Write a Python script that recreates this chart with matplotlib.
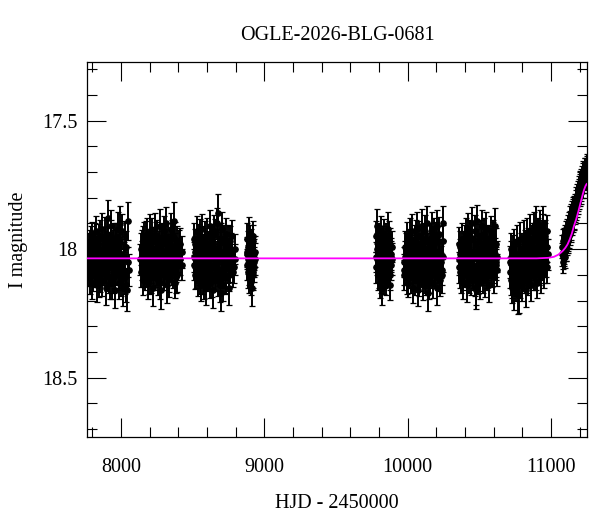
import matplotlib
matplotlib.use('Agg')
import matplotlib.pyplot as plt
from matplotlib.ticker import MultipleLocator, FuncFormatter

# OGLE I-band photometry per observing season: HJD - 2450000, I mag, error in mmag
# (two interleaved sets per season)
s1_t = [7774, 7779, 7783, 7788, 7792, 7797, 7801, 7806, 7812, 7817,
        7823, 7828, 7833, 7839, 7844, 7850, 7855, 7861, 7866, 7872,
        7878, 7883, 7889, 7894, 7900, 7906, 7911, 7917, 7922, 7928,
        7934, 7939, 7945, 7950, 7956, 7962, 7967, 7973, 7979, 7984,
        7990, 7995, 8001, 8007, 8013, 8019, 8026, 8034, 8045, 8052]
s1_mag = [18.02, 18.08, 17.98, 18.11, 18.05, 17.95, 18.13, 18.03, 17.99, 18.09,
          18.06, 17.93, 18.14, 18.01, 18.07, 17.96, 18.10, 18.04, 17.92, 18.12,
          18.00, 18.08, 17.97, 18.15, 18.03, 17.94, 17.88, 18.11, 17.99, 18.02,
          17.91, 18.13, 18.05, 17.96, 18.09, 18.16, 17.98, 18.04, 17.92, 18.10,
          18.01, 17.90, 18.12, 18.07, 18.15, 18.03, 17.95, 18.14, 18.16, 17.89]
s1_err = [58, 62, 55, 66, 60, 57, 64, 59, 61, 56,
          63, 58, 67, 60, 62, 57, 65, 59, 61, 63,
          58, 60, 56, 66, 59, 62, 70, 61, 57, 60,
          64, 63, 58, 60, 62, 68, 57, 59, 63, 61,
          58, 66, 62, 60, 72, 59, 61, 65, 80, 75]
s1b_t = [7776, 7781, 7786, 7790, 7795, 7799, 7804, 7809, 7814, 7820,
         7825, 7831, 7836, 7842, 7847, 7853, 7858, 7864, 7869, 7875,
         7880, 7886, 7891, 7897, 7903, 7908, 7914, 7920, 7925, 7931,
         7937, 7942, 7948, 7953, 7959, 7965, 7970, 7976, 7981, 7987,
         7993, 7998, 8004, 8010, 8016, 8022, 8030, 8039, 8049, 8056]
s1b_mag = [18.06, 18.00, 18.04, 17.97, 18.08, 18.03, 17.99, 18.10, 18.05, 17.96,
           18.02, 18.09, 18.04, 17.98, 18.12, 18.01, 17.95, 18.06, 18.08, 18.00,
           18.04, 17.94, 18.07, 18.02, 18.10, 17.97, 18.05, 18.01, 18.13, 17.95,
           18.07, 18.03, 17.99, 18.11, 18.02, 17.96, 18.08, 18.05, 18.00, 18.13,
           17.97, 18.06, 18.02, 17.93, 18.09, 18.04, 18.11, 17.99, 18.05, 18.08]
s1b_err = [60, 62, 58, 61, 63, 59, 60, 64, 57, 62,
           61, 59, 63, 60, 65, 58, 62, 60, 61, 59,
           63, 66, 60, 58, 62, 61, 59, 60, 64, 62,
           58, 61, 63, 60, 59, 62, 61, 60, 58, 65,
           63, 59, 60, 67, 62, 58, 64, 61, 60, 62]

s2_t = [8137, 8142, 8148, 8153, 8159, 8164, 8170, 8176, 8181, 8187,
        8192, 8198, 8204, 8209, 8215, 8220, 8226, 8232, 8237, 8243,
        8248, 8254, 8260, 8265, 8271, 8276, 8282, 8288, 8293, 8299,
        8304, 8310, 8316, 8321, 8327, 8332, 8338, 8344, 8349, 8355,
        8360, 8366, 8372, 8377, 8383, 8389, 8395, 8402, 8411, 8423]
s2_mag = [18.04, 18.09, 17.99, 18.12, 18.02, 17.96, 18.10, 18.05, 17.94, 18.13,
          18.00, 18.07, 17.93, 18.11, 18.03, 17.97, 18.15, 18.06, 17.92, 18.09,
          18.01, 17.95, 18.12, 18.04, 17.91, 18.08, 18.16, 17.98, 18.03, 17.93,
          18.10, 18.06, 17.90, 18.14, 18.00, 17.96, 18.11, 18.05, 17.92, 18.08,
          18.02, 17.95, 17.89, 18.13, 18.07, 17.97, 18.10, 18.03, 17.98, 18.06]
s2_err = [60, 57, 63, 59, 61, 65, 58, 62, 60, 64,
          57, 61, 66, 59, 63, 58, 70, 60, 62, 57,
          61, 64, 59, 62, 66, 58, 72, 60, 63, 59,
          61, 57, 65, 68, 60, 62, 58, 64, 61, 59,
          63, 60, 74, 62, 58, 61, 66, 59, 63, 60]
s2b_t = [8139, 8145, 8150, 8156, 8161, 8167, 8173, 8178, 8184, 8190,
         8195, 8201, 8206, 8212, 8218, 8223, 8229, 8234, 8240, 8246,
         8251, 8257, 8262, 8268, 8274, 8279, 8285, 8290, 8296, 8302,
         8307, 8313, 8318, 8324, 8330, 8335, 8341, 8346, 8352, 8358,
         8363, 8369, 8375, 8380, 8386, 8392, 8398, 8406, 8416, 8426]
s2b_mag = [18.00, 18.06, 18.03, 17.97, 18.09, 18.01, 18.05, 17.95, 18.08, 18.02,
           18.11, 17.98, 18.04, 18.07, 17.94, 18.03, 18.10, 18.00, 18.06, 17.96,
           18.08, 18.02, 18.05, 17.99, 18.13, 18.04, 17.96, 18.07, 18.01, 18.10,
           17.97, 18.03, 18.08, 18.00, 18.05, 18.12, 17.98, 18.02, 18.06, 17.95,
           18.09, 18.04, 18.00, 17.96, 18.11, 18.03, 18.06, 17.99, 18.04, 18.01]
s2b_err = [61, 59, 62, 60, 58, 63, 61, 60, 62, 59,
           64, 60, 58, 61, 63, 62, 60, 59, 61, 64,
           60, 62, 58, 61, 66, 59, 62, 60, 63, 61,
           59, 62, 60, 58, 61, 65, 60, 62, 59, 63,
           61, 60, 62, 64, 60, 59, 61, 63, 60, 62]

s3_t = [8507, 8512, 8518, 8523, 8529, 8535, 8540, 8546, 8551, 8557,
        8563, 8568, 8574, 8579, 8585, 8591, 8596, 8602, 8607, 8613,
        8619, 8624, 8630, 8635, 8641, 8647, 8652, 8658, 8663, 8669,
        8675, 8680, 8686, 8691, 8697, 8703, 8708, 8714, 8719, 8725,
        8731, 8736, 8742, 8747, 8753, 8759, 8765, 8772, 8781, 8794]
s3_mag = [18.03, 17.96, 18.10, 18.05, 17.93, 18.12, 18.00, 18.08, 17.95, 18.14,
          18.04, 17.92, 18.11, 18.06, 17.98, 18.15, 18.01, 17.94, 18.09, 18.03,
          17.91, 18.13, 18.07, 17.97, 18.16, 18.02, 17.93, 18.10, 18.05, 17.90,
          18.12, 17.86, 18.04, 17.96, 18.17, 18.08, 17.92, 18.14, 18.01, 18.06,
          17.94, 18.11, 18.03, 17.97, 18.15, 18.07, 18.00, 17.95, 18.09, 18.04]
s3_err = [59, 62, 57, 64, 60, 63, 58, 61, 66, 60,
          62, 58, 65, 59, 61, 68, 57, 63, 60, 62,
          64, 59, 61, 66, 70, 58, 62, 60, 64, 59,
          61, 75, 60, 63, 72, 58, 65, 62, 59, 61,
          63, 60, 57, 64, 66, 59, 61, 62, 58, 60]
s3b_t = [8509, 8515, 8520, 8526, 8532, 8537, 8543, 8548, 8554, 8560,
         8565, 8571, 8576, 8582, 8588, 8593, 8599, 8604, 8610, 8616,
         8621, 8627, 8632, 8638, 8644, 8649, 8655, 8660, 8666, 8672,
         8677, 8683, 8688, 8694, 8700, 8705, 8711, 8716, 8722, 8728,
         8733, 8739, 8744, 8750, 8756, 8762, 8768, 8776, 8787, 8797]
s3b_mag = [18.06, 18.01, 17.98, 18.09, 18.03, 18.07, 17.96, 18.04, 18.11, 18.00,
           17.97, 18.08, 18.02, 18.13, 17.95, 18.05, 18.10, 17.99, 18.06, 18.02,
           18.09, 17.96, 18.04, 18.12, 18.00, 18.07, 17.94, 18.03, 18.10, 18.05,
           17.98, 18.08, 18.01, 18.14, 17.96, 18.04, 18.09, 18.02, 17.97, 18.11,
           18.05, 17.99, 18.07, 18.02, 18.10, 17.97, 18.05, 18.01, 18.07, 18.00]
s3b_err = [60, 62, 59, 61, 63, 60, 58, 62, 64, 60,
           61, 59, 62, 66, 60, 58, 63, 61, 60, 62,
           64, 59, 61, 65, 60, 62, 58, 61, 63, 60,
           59, 62, 60, 67, 61, 59, 63, 60, 62, 64,
           60, 58, 62, 61, 63, 59, 60, 62, 61, 59]

s4_t = [8877, 8881, 8885, 8889, 8893, 8897, 8901, 8905, 8909, 8913,
        8917, 8921, 8925, 8929, 8934]
s4_mag = [18.02, 17.96, 18.09, 18.04, 17.94, 18.11, 18.00, 18.07, 17.98, 18.15,
          18.03, 17.97, 18.10, 18.05, 18.01]
s4_err = [58, 62, 60, 57, 64, 61, 59, 63, 60, 70,
          58, 62, 61, 59, 60]
s4b_t = [8879, 8883, 8887, 8891, 8895, 8899, 8903, 8907, 8911, 8915,
         8919, 8923, 8927, 8931, 8936]
s4b_mag = [18.06, 18.01, 17.99, 18.08, 18.03, 17.97, 18.05, 18.12, 18.00, 18.04,
           18.09, 17.95, 18.02, 18.07, 18.04]
s4b_err = [61, 59, 62, 60, 58, 63, 61, 60, 64, 59,
           62, 60, 61, 58, 62]

s5_t = [9777, 9781, 9786, 9790, 9795, 9800, 9804, 9809, 9813, 9818,
        9823, 9827, 9832, 9837, 9841, 9846, 9851, 9855, 9860, 9865,
        9869, 9874, 9879, 9884, 9891]
s5_mag = [18.03, 17.95, 17.91, 18.10, 18.05, 17.97, 18.13, 18.01, 17.93, 18.08,
          18.15, 18.00, 17.94, 18.11, 18.04, 17.96, 18.12, 18.02, 17.92, 18.09,
          18.06, 17.98, 18.14, 18.03, 17.99]
s5_err = [58, 61, 65, 60, 57, 63, 59, 62, 60, 58,
          66, 61, 59, 64, 60, 62, 58, 61, 63, 59,
          60, 62, 57, 61, 59]
s5b_t = [9779, 9784, 9788, 9793, 9797, 9802, 9807, 9811, 9816, 9820,
         9825, 9830, 9834, 9839, 9844, 9848, 9853, 9858, 9862, 9867,
         9872, 9876, 9881, 9887, 9893]
s5b_mag = [18.07, 18.00, 18.04, 17.96, 18.09, 18.02, 18.06, 17.98, 18.11, 18.03,
           17.97, 18.07, 18.01, 18.05, 18.09, 17.99, 18.04, 18.08, 18.00, 18.03,
           17.95, 18.10, 18.02, 18.06, 18.04]
s5b_err = [60, 62, 59, 61, 63, 60, 58, 62, 61, 60,
           59, 63, 61, 60, 62, 59, 61, 64, 60, 62,
           58, 61, 63, 60, 62]

s6_t = [9972, 9977, 9983, 9988, 9994, 9999, 10005, 10010, 10016, 10021,
        10027, 10032, 10038, 10043, 10049, 10054, 10060, 10065, 10071, 10076,
        10082, 10087, 10093, 10098, 10104, 10109, 10115, 10120, 10126, 10131,
        10137, 10142, 10148, 10153, 10159, 10164, 10170, 10175, 10181, 10186,
        10192, 10197, 10203, 10208, 10214, 10219, 10226, 10233, 10241, 10249]
s6_mag = [18.05, 18.10, 17.99, 18.08, 18.02, 17.96, 18.13, 18.04, 17.94, 18.11,
          18.06, 17.93, 18.15, 18.01, 17.97, 18.12, 18.07, 17.92, 18.16, 18.03,
          17.95, 18.10, 18.04, 17.91, 18.14, 18.00, 18.08, 17.93, 18.12, 18.05,
          17.90, 18.17, 18.02, 17.96, 18.11, 18.06, 17.92, 18.13, 18.01, 17.94,
          18.09, 18.04, 17.91, 18.15, 18.07, 17.97, 18.12, 18.02, 18.10, 17.90]
s6_err = [60, 58, 62, 59, 61, 64, 57, 63, 60, 62,
          58, 65, 61, 59, 63, 60, 57, 66, 62, 61,
          59, 63, 60, 67, 58, 62, 61, 64, 59, 60,
          66, 70, 58, 62, 60, 63, 65, 61, 59, 62,
          60, 58, 64, 68, 61, 59, 63, 60, 72, 66]
s6b_t = [9975, 9980, 9986, 9991, 9997, 10002, 10008, 10013, 10019, 10024,
         10030, 10035, 10041, 10046, 10052, 10057, 10063, 10068, 10074, 10079,
         10085, 10090, 10096, 10101, 10107, 10112, 10118, 10123, 10129, 10134,
         10140, 10145, 10151, 10156, 10162, 10167, 10173, 10178, 10184, 10189,
         10195, 10200, 10206, 10211, 10217, 10222, 10230, 10237, 10245, 10250]
s6b_mag = [18.08, 18.03, 18.06, 18.00, 18.11, 18.05, 17.98, 18.09, 18.02, 18.06,
           17.99, 18.10, 18.04, 18.07, 18.01, 17.95, 18.09, 18.04, 18.00, 18.12,
           18.06, 17.98, 18.02, 18.08, 17.96, 18.05, 18.11, 18.01, 17.97, 18.09,
           18.04, 18.00, 18.13, 18.06, 17.96, 18.02, 18.09, 18.04, 17.98, 18.07,
           18.02, 17.96, 18.06, 18.01, 18.10, 17.94, 18.05, 18.08, 17.97, 18.03]
s6b_err = [61, 60, 59, 62, 64, 60, 58, 61, 63, 60,
           62, 59, 61, 60, 63, 65, 60, 62, 58, 64,
           61, 59, 62, 60, 63, 61, 60, 59, 62, 61,
           60, 63, 66, 61, 62, 59, 60, 63, 61, 60,
           62, 64, 60, 59, 63, 65, 61, 60, 62, 61]

s7_t = [10355, 10360, 10366, 10371, 10377, 10382, 10387, 10393, 10398, 10404,
        10409, 10414, 10420, 10425, 10431, 10436, 10441, 10447, 10452, 10458,
        10463, 10468, 10474, 10479, 10485, 10490, 10495, 10501, 10506, 10512,
        10517, 10522, 10528, 10533, 10539, 10544, 10549, 10555, 10560, 10566,
        10571, 10576, 10582, 10587, 10593, 10598, 10604, 10610, 10616, 10623]
s7_mag = [17.98, 18.07, 18.02, 18.11, 17.96, 18.05, 18.13, 17.99, 18.09, 17.94,
          18.04, 18.14, 17.92, 18.08, 18.01, 17.95, 18.12, 18.06, 17.90, 18.10,
          18.03, 17.93, 18.15, 18.16, 17.89, 18.11, 18.05, 17.96, 18.13, 18.02,
          17.91, 18.08, 18.04, 17.94, 18.12, 18.07, 17.92, 18.10, 18.01, 17.97,
          18.14, 18.05, 17.93, 18.09, 18.03, 17.95, 18.11, 17.91, 18.06, 18.08]
s7_err = [65, 60, 58, 62, 61, 59, 63, 60, 58, 62,
          61, 64, 60, 59, 63, 62, 58, 61, 65, 60,
          59, 62, 66, 74, 60, 63, 61, 58, 64, 60,
          62, 59, 61, 60, 65, 58, 63, 61, 60, 59,
          66, 62, 60, 58, 61, 64, 60, 70, 59, 62]
s7b_t = [10357, 10363, 10368, 10374, 10379, 10385, 10390, 10396, 10401, 10406,
         10412, 10417, 10422, 10428, 10433, 10439, 10444, 10450, 10455, 10460,
         10466, 10471, 10476, 10482, 10487, 10493, 10498, 10503, 10509, 10514,
         10520, 10525, 10530, 10536, 10541, 10547, 10552, 10557, 10563, 10568,
         10574, 10579, 10584, 10590, 10595, 10601, 10607, 10613, 10619, 10625]
s7b_mag = [18.04, 18.09, 17.99, 18.05, 18.02, 18.10, 18.00, 18.06, 17.97, 18.03,
           18.08, 17.98, 18.05, 18.11, 18.02, 18.07, 17.96, 18.03, 18.09, 18.01,
           18.06, 18.12, 17.98, 18.04, 18.08, 18.00, 18.06, 18.10, 17.95, 18.05,
           18.03, 18.11, 17.98, 18.07, 18.01, 18.04, 18.09, 17.97, 18.06, 18.02,
           17.99, 18.08, 18.04, 18.01, 17.96, 18.07, 18.02, 18.05, 17.98, 18.03]
s7b_err = [62, 60, 61, 59, 63, 60, 62, 61, 64, 60,
           59, 62, 61, 60, 63, 59, 65, 61, 60, 62,
           61, 63, 60, 62, 59, 61, 60, 64, 62, 60,
           61, 59, 63, 60, 62, 61, 60, 64, 59, 61,
           62, 60, 61, 63, 65, 60, 62, 59, 61, 60]

s8_t = [10713, 10718, 10723, 10729, 10734, 10739, 10745, 10750, 10755, 10761,
        10766, 10771, 10777, 10782, 10787, 10793, 10798, 10803, 10809, 10814,
        10819, 10825, 10830, 10835, 10841, 10846, 10851, 10857, 10862, 10867,
        10873, 10878, 10883, 10889, 10894, 10899, 10905, 10910, 10915, 10921,
        10926, 10931, 10937, 10942, 10947, 10953, 10958, 10963, 10969, 10974]
s8_mag = [18.05, 18.12, 18.00, 18.15, 18.08, 17.98, 18.17, 18.03, 18.11, 17.97,
          18.09, 18.18, 18.02, 18.13, 17.96, 18.07, 18.14, 18.01, 17.95, 18.10,
          18.04, 18.16, 17.94, 18.08, 18.12, 17.99, 18.05, 17.93, 18.14, 18.02,
          17.96, 18.10, 17.92, 18.06, 17.90, 18.13, 18.01, 17.94, 18.08, 18.03,
          17.91, 18.11, 17.97, 18.05, 17.90, 18.09, 17.95, 18.02, 17.93, 18.07]
s8_err = [61, 58, 63, 60, 62, 59, 66, 61, 58, 63,
          60, 72, 62, 59, 64, 61, 60, 58, 63, 62,
          59, 64, 61, 60, 58, 63, 62, 65, 60, 59,
          62, 61, 64, 58, 66, 60, 62, 63, 59, 61,
          64, 60, 62, 59, 68, 61, 63, 58, 62, 60]
s8b_t = [10716, 10721, 10726, 10731, 10737, 10742, 10747, 10753, 10758, 10763,
         10769, 10774, 10779, 10785, 10790, 10795, 10801, 10806, 10811, 10817,
         10822, 10827, 10833, 10838, 10843, 10849, 10854, 10859, 10865, 10870,
         10875, 10881, 10886, 10891, 10897, 10902, 10907, 10913, 10918, 10923,
         10929, 10934, 10939, 10945, 10950, 10955, 10961, 10966, 10971, 10976]
s8b_mag = [18.09, 18.03, 18.13, 18.06, 18.01, 18.10, 18.05, 18.14, 18.02, 18.08,
           18.12, 18.18, 18.04, 18.09, 18.00, 18.11, 18.06, 18.03, 18.09, 17.99,
           18.07, 18.02, 18.11, 17.98, 18.05, 18.09, 18.01, 18.06, 17.97, 18.08,
           18.03, 17.96, 18.07, 18.00, 18.10, 17.97, 18.04, 18.08, 17.95, 18.02,
           18.06, 17.98, 18.03, 17.93, 18.07, 18.00, 17.96, 18.05, 17.99, 18.02]
s8b_err = [60, 62, 59, 61, 63, 60, 62, 61, 59, 62,
           60, 70, 61, 60, 63, 59, 62, 60, 61, 64,
           60, 62, 59, 63, 61, 60, 62, 59, 64, 61,
           60, 63, 61, 62, 59, 64, 60, 61, 63, 60,
           62, 61, 60, 66, 61, 59, 63, 60, 62, 61]

s9_t = [11078, 11082, 11086, 11090, 11094, 11098, 11102, 11106, 11110, 11115,
        11120, 11125, 11130, 11135, 11140, 11145, 11150, 11155, 11160, 11165,
        11170, 11175, 11180, 11185, 11190, 11195, 11200, 11205, 11210, 11215,
        11220, 11226, 11232, 11238, 11245, 11251]
s9_mag = [18.02, 17.97, 18.05, 17.99, 18.01, 17.95, 18.00, 17.94, 17.98, 17.93,
          17.96, 17.90, 17.94, 17.88, 17.92, 17.86, 17.89, 17.84, 17.88, 17.83,
          17.85, 17.80, 17.83, 17.78, 17.81, 17.76, 17.79, 17.74, 17.77, 17.72,
          17.76, 17.71, 17.74, 17.69, 17.72, 17.68]
s9_err = [45, 48, 44, 47, 46, 43, 45, 49, 44, 46,
          47, 43, 45, 48, 44, 46, 45, 43, 47, 44,
          46, 42, 45, 44, 43, 46, 42, 44, 43, 45,
          42, 44, 41, 43, 42, 41]
s9b_t = [11080, 11084, 11088, 11092, 11096, 11100, 11104, 11108, 11112, 11117,
         11122, 11127, 11132, 11137, 11142, 11147, 11152, 11157, 11162, 11167,
         11172, 11177, 11182, 11187, 11192, 11197, 11202, 11207, 11212, 11217,
         11223, 11229, 11235, 11241, 11248, 11253]
s9b_mag = [17.99, 18.03, 17.96, 18.02, 17.97, 18.03, 17.96, 18.00, 17.95, 17.97,
           17.91, 17.95, 17.90, 17.93, 17.87, 17.90, 17.85, 17.88, 17.84, 17.86,
           17.81, 17.84, 17.79, 17.82, 17.77, 17.80, 17.75, 17.78, 17.73, 17.76,
           17.70, 17.74, 17.69, 17.73, 17.67, 17.71]
s9b_err = [44, 46, 43, 45, 47, 44, 48, 45, 43, 46,
           44, 45, 47, 43, 45, 44, 46, 43, 45, 44,
           42, 45, 43, 44, 42, 45, 43, 44, 42, 43,
           44, 42, 43, 41, 42, 43]

# microlensing model curve
model_t = [7766, 10900, 10980, 11020, 11050, 11070, 11085, 11100, 11115, 11130,
           11145, 11160, 11175, 11190, 11205, 11220, 11230, 11240, 11248, 11255]
model_mag = [18.036, 18.036, 18.034, 18.030, 18.022, 18.013, 18.005, 17.995, 17.982, 17.963,
             17.940, 17.910, 17.885, 17.855, 17.822, 17.790, 17.770, 17.755, 17.747, 17.744]

seasons = [
    (s1_t, s1_mag, s1_err), (s1b_t, s1b_mag, s1b_err),
    (s2_t, s2_mag, s2_err), (s2b_t, s2b_mag, s2b_err),
    (s3_t, s3_mag, s3_err), (s3b_t, s3b_mag, s3b_err),
    (s4_t, s4_mag, s4_err), (s4b_t, s4b_mag, s4b_err),
    (s5_t, s5_mag, s5_err), (s5b_t, s5b_mag, s5b_err),
    (s6_t, s6_mag, s6_err), (s6b_t, s6b_mag, s6b_err),
    (s7_t, s7_mag, s7_err), (s7b_t, s7b_mag, s7b_err),
    (s8_t, s8_mag, s8_err), (s8b_t, s8b_mag, s8b_err),
    (s9_t, s9_mag, s9_err), (s9b_t, s9b_mag, s9b_err),
]

plt.rcParams['font.family'] = ['Liberation Serif', 'DejaVu Serif']
plt.rcParams['font.size'] = 14.5

fig = plt.figure(figsize=(6.0, 5.12), dpi=100)
ax = fig.add_axes([0.1455, 0.1471, 0.8333, 0.7312])

for t, mag, err in seasons:
    ax.errorbar(t, mag, yerr=[e / 1000 for e in err], fmt='o', color='k',
                ms=3.8, elinewidth=1.4, ecolor='k', capsize=2.4,
                capthick=0.9, zorder=2)

ax.plot(model_t, model_mag, color='#ff00ff', lw=1.3, zorder=3)

ax.set_xlim(7766, 11253)
ax.set_ylim(18.73, 17.273)

ax.xaxis.set_major_locator(MultipleLocator(1000))
ax.xaxis.set_minor_locator(MultipleLocator(200))
ax.yaxis.set_major_locator(MultipleLocator(0.5))
ax.yaxis.set_minor_locator(MultipleLocator(0.1))
ax.yaxis.set_major_formatter(FuncFormatter(lambda v, p: '%g' % v))

ax.tick_params(which='both', direction='in', top=True, right=True, width=0.8)
ax.tick_params(which='major', length=13.5)
ax.tick_params(which='minor', length=7)
ax.tick_params(axis='x', which='major', pad=15)
ax.tick_params(axis='y', which='major', pad=7)
for s in ax.spines.values():
    s.set_linewidth(0.9)

ax.set_title('OGLE-2026-BLG-0681', pad=16, fontsize=14.5)
ax.set_xlabel('HJD - 2450000', va='baseline')
ax.xaxis.set_label_coords(0.5, -0.190)
ax.set_ylabel('I magnitude', va='center')
ax.yaxis.set_label_coords(-0.137, 0.525)

fig.savefig('out.png', dpi=100)
